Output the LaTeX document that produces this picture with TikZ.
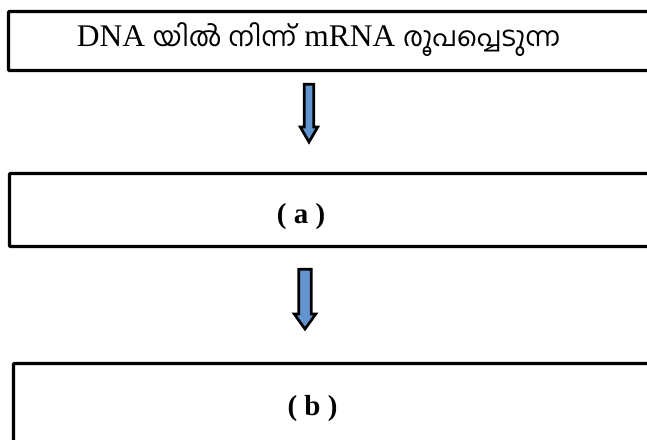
\documentclass[tikz,border=0pt]{standalone}
\usepackage{fontspec}
\setmainfont{Liberation Serif}
\newfontfamily\ml[Script=Malayalam]{Hind Kochi}
\definecolor{arrowblue}{RGB}{98,148,208}
\begin{document}
\begin{tikzpicture}[x=1pt,y=-1pt,
  boxstyle/.style={draw=black,line width=3.3pt,rounded corners=1pt},
  blockarrow/.style={draw=black,fill=arrowblue,line width=2.7pt,line join=miter},
  lbl/.style={inner sep=0pt,anchor=base}]
\useasboundingbox (0,0) rectangle (647,439);
\begin{scope}
\clip (0,0) rectangle (647,439);
% boxes
\draw[boxstyle] (8.5,11.5) rectangle (680,70.5);
\draw[boxstyle] (9.5,173.5) rectangle (680,246.5);
\draw[boxstyle] (13.5,363.5) rectangle (680,460);
\end{scope}
\coordinate (box1) at (309,70.5);
\coordinate (box2) at (305,246.5);
% texts
\node[lbl] (t1) at (318.5,46.5) {\fontsize{31.5}{38}\selectfont DNA {\ml\fontsize{27}{32}\selectfont യിൽ നിന്ന്} mRNA {\ml\fontsize{27}{32}\selectfont രൂപപ്പെടുന്ന}};
\node[lbl] (ta) at (301,223) {\fontsize{29}{34}\selectfont\bfseries ( a )};
\node[lbl] (tb) at (312.5,415) {\fontsize{29}{34}\selectfont\bfseries ( b )};
% arrows
\draw[blockarrow] ([xshift=-4.75pt,yshift=-13.75pt]box1) -- ([xshift=4.75pt,yshift=-13.75pt]box1)
  -- ([xshift=4.75pt,yshift=-56.5pt]box1) -- ([xshift=8.75pt,yshift=-56.5pt]box1)
  -- ([yshift=-71.5pt]box1) -- ([xshift=-8.75pt,yshift=-56.5pt]box1)
  -- ([xshift=-4.75pt,yshift=-56.5pt]box1) -- cycle;
\draw[blockarrow] ([xshift=-6.25pt,yshift=-22.75pt]box2) -- ([xshift=6.25pt,yshift=-22.75pt]box2)
  -- ([xshift=6.25pt,yshift=-67.5pt]box2) -- ([xshift=10.75pt,yshift=-67.5pt]box2)
  -- ([yshift=-82.5pt]box2) -- ([xshift=-10.75pt,yshift=-67.5pt]box2)
  -- ([xshift=-6.25pt,yshift=-67.5pt]box2) -- cycle;
\end{tikzpicture}
\end{document}
